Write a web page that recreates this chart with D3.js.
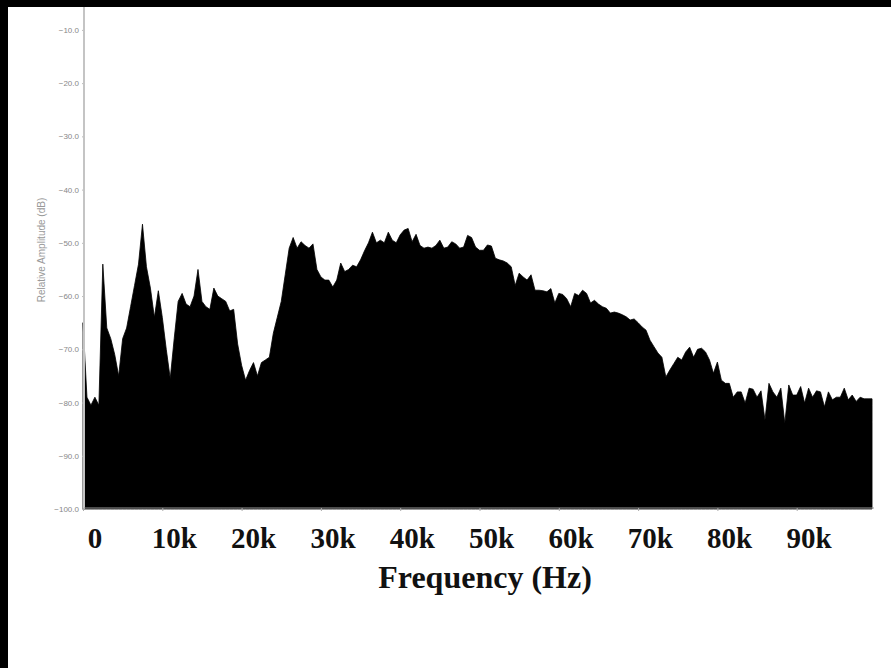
<!DOCTYPE html>
<html>
<head>
<meta charset="utf-8">
<script src="https://cdn.jsdelivr.net/npm/d3@7"></script>
<style>
  html, body { margin: 0; padding: 0; background: #000; }
  svg { display: block; }
</style>
</head>
<body>
<svg width="891" height="668"></svg>
<script>
// spectrum sampled every 0.5 kHz, amplitude in dB
var binKHz = 0.5;
var amplitude = [
  -65, -79, -80.5, -79, -80.5, -54, -66, -68, -71, -75,
  -68, -66, -62, -58, -54, -46.5, -54.5, -58.5, -64, -59,
  -64, -70, -75.5, -68, -61, -59.5, -61.5, -62, -60, -55,
  -61, -62, -62.5, -58.5, -60, -60.5, -61, -62.8, -62.5, -69,
  -73, -75.8, -74, -72.5, -75, -72.5, -72, -71.5, -67, -64,
  -61, -56, -51, -49, -51, -49.8, -50.5, -51, -50.2, -55,
  -56.4, -57, -57, -58.3, -57, -53.8, -55.4, -55, -54.2, -54.5,
  -53.2, -51.5, -50, -48, -50, -49.5, -50, -48, -49.5, -50,
  -48.5, -47.6, -47.3, -49.8, -48.4, -50.5, -51, -50.8, -51, -50.5,
  -49.5, -51, -50.8, -49.8, -50.2, -51, -50.8, -48.6, -49, -50.8,
  -51.4, -51.4, -50.4, -50.6, -52.9, -53.2, -53.4, -53.8, -54.5, -58,
  -55.7, -56.4, -57, -56, -58.9, -58.9, -59, -59.2, -58.6, -61.3,
  -59.5, -59.7, -60.5, -62, -59.5, -59.9, -58.9, -59.5, -61.3, -60.8,
  -61.5, -62, -62.3, -63.2, -63, -63.2, -63.5, -63.9, -64.5, -64.3,
  -65, -65.8, -66.4, -68.3, -69.5, -70.7, -71.5, -75.2, -73.9, -72.7,
  -71.5, -72, -70.5, -69.6, -71.5, -70, -69.8, -70.5, -72, -74.5,
  -72.4, -75.8, -76.4, -76.4, -79, -78, -78, -80.1, -77.3, -77.5,
  -79, -77.8, -83.3, -76.4, -78, -79, -77.3, -83.9, -76.7, -78.6,
  -78.6, -77, -80.1, -77.3, -79, -77.8, -78, -80.8, -78, -79.5,
  -79, -79, -77.3, -79.5, -78.6, -79.8, -79, -79.3, -79.3, -79.3
];

var xTicks = [0, 10000, 20000, 30000, 40000, 50000, 60000, 70000, 80000, 90000];
var xTickLabels = ["0", "10k", "20k", "30k", "40k", "50k", "60k", "70k", "80k", "90k"];
var yTicks = [-10, -20, -30, -40, -50, -60, -70, -80, -90, -100];

var svg = d3.select("svg"),
    width = +svg.attr("width"),
    height = +svg.attr("height");

// white page with the black scan edge on the left and top
svg.append("rect")
    .attr("x", 8).attr("y", 7)
    .attr("width", width - 8).attr("height", height - 7)
    .attr("fill", "#fff");

var x = d3.scaleLinear().domain([0, 100000]).range([83, 876]);
var y = d3.scaleLinear().domain([-100, -5.7]).range([509, 7]);
// the printed labels sit a little right of their ticks
var xLabel = d3.scaleLinear().domain([0, 90000]).range([95, 809]);

var data = amplitude.map(function(v, i) { return { f: i * binKHz * 1000, db: v }; });

// spectrum
var area = d3.area()
    .x(function(d) { return x(d.f); })
    .y0(y(-100))
    .y1(function(d) { return y(d.db); });

svg.append("path")
    .datum(data)
    .attr("fill", "#000")
    .attr("stroke", "#000")
    .attr("stroke-width", 0.8)
    .attr("d", area);

// y axis
var yAxis = svg.append("g")
    .attr("transform", "translate(84,0)")
    .call(d3.axisLeft(y).tickValues(yTicks).tickSize(2).tickPadding(3).tickFormat(d3.format(".1f")));

yAxis.select(".domain").remove();
yAxis.selectAll("line").attr("stroke", "#bbb");
yAxis.selectAll("text")
    .attr("fill", "#888")
    .style("font-family", "Arial, 'Liberation Sans', sans-serif")
    .style("font-size", "8px");

svg.append("line")
    .attr("x1", 84).attr("x2", 84)
    .attr("y1", 7).attr("y2", 509)
    .attr("stroke", "#c4c4c4")
    .attr("stroke-width", 2);

svg.append("text")
    .attr("transform", "translate(45,250)rotate(-90)")
    .attr("text-anchor", "middle")
    .attr("fill", "#999")
    .style("font-family", "Arial, 'Liberation Sans', sans-serif")
    .style("font-size", "10px")
    .text("Relative Amplitude (dB)");

// x axis
var xAxis = svg.append("g")
    .attr("transform", "translate(0,508)")
    .call(d3.axisBottom(x).tickValues(xTicks).tickSize(3).tickFormat(""));

xAxis.select(".domain").attr("stroke", "#999").attr("d", "M84,0H874");
xAxis.selectAll("line").attr("stroke", "#aaa");

svg.append("g")
    .selectAll("text")
    .data(xTicks)
    .enter().append("text")
    .attr("x", function(d) { return xLabel(d); })
    .attr("y", 548)
    .attr("text-anchor", "middle")
    .attr("fill", "#111")
    .style("font-family", "'Liberation Serif', 'Times New Roman', serif")
    .style("font-weight", "bold")
    .style("font-size", "29px")
    .text(function(d, i) { return xTickLabels[i]; });

svg.append("text")
    .attr("x", 485)
    .attr("y", 588)
    .attr("text-anchor", "middle")
    .attr("fill", "#111")
    .style("font-family", "'Liberation Serif', 'Times New Roman', serif")
    .style("font-weight", "bold")
    .style("font-size", "32px")
    .text("Frequency (Hz)");
</script>
</body>
</html>
